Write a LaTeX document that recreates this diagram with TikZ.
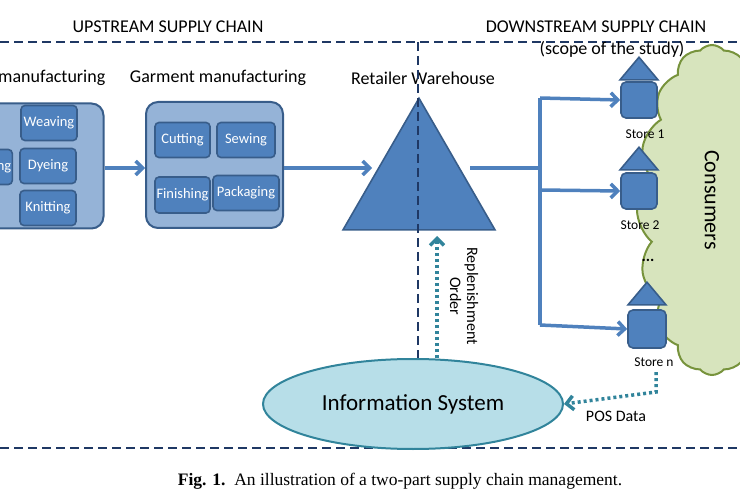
\documentclass[tikz,border=0pt]{standalone}
\usepackage{fontspec}
\setmainfont{Liberation Serif}
\newfontfamily\calfont{Carlito}
\usetikzlibrary{shapes.symbols,shapes.geometric,arrows.meta}
\definecolor{outer}{HTML}{95B3D7}
\definecolor{bord}{HTML}{385D8A}
\definecolor{inner}{HTML}{4F81BD}
\definecolor{navy}{HTML}{1F3864}
\definecolor{teal}{HTML}{31849B}
\definecolor{isfill}{HTML}{B7DEE8}
\definecolor{green1}{HTML}{D7E4BD}
\definecolor{green2}{HTML}{77933C}
\begin{document}
\begin{tikzpicture}[x=1pt,y=-1pt,
  outerbox/.style={draw=bord,fill=outer,line width=2pt,rounded corners=12pt},
  innerbox/.style={draw=bord,fill=inner,line width=1.6pt,rounded corners=4pt,text=white,inner sep=1pt,font=\calfont\fontsize{14.5}{15}\selectfont},
  title/.style={font=\calfont\fontsize{18}{19}\selectfont},
  flow/.style={draw=inner,line width=3.5pt,-{Straight Barb[length=7pt,width=14pt]}},
  flowl/.style={draw=inner,line width=3.5pt},
  sep/.style={draw=navy,line width=1.6pt,dash pattern=on 9pt off 5pt},
  info/.style={draw=teal,line width=3.5pt,dash pattern=on 3pt off 3pt,-{Straight Barb[length=7pt,width=14pt]}},
  store/.style={draw=bord,fill=inner,line width=1.6pt,rounded corners=5pt,minimum width=36pt,minimum height=36pt},
  roof/.style={draw=bord,fill=inner,line width=1.6pt},
  slabel/.style={font=\calfont\fontsize{13.5}{14}\selectfont}]
\useasboundingbox (0,0) rectangle (740,500);
\clip (0,0) rectangle (740,500);
% cloud
\node[cloud,cloud puffs=16,cloud puff arc=100,aspect=0.4,draw=green2,fill=green1,line width=2pt,minimum width=150pt,minimum height=330pt] (cloud) at (712,210) {};
\node[rotate=-90,font=\calfont\fontsize{22}{24}\selectfont] (cons) at (712,200) {Consumers};
% separators
\coordinate (tl) at (0,42); \coordinate (tr) at (740,42);
\coordinate (bl) at (0,448); \coordinate (br) at (740,448);
\coordinate (vt) at (418,42); \coordinate (vb) at (418,360);
\draw[sep] (tl) -- (tr);
\draw[sep] (bl) -- (br);
\node[title] (up) at (168,27) {UPSTREAM SUPPLY CHAIN};
\node[title] (down) at (596,27) {DOWNSTREAM SUPPLY CHAIN};
\node[title] (scope) at (612,49) {(scope of the study)};
% textile
\node[title,anchor=west,inner sep=0] (tt) at (-2,78) {manufacturing};
\node[outerbox,minimum width=125pt,minimum height=125pt] (tex) at (41,166) {};
\node[innerbox,minimum width=46pt,minimum height=35pt] (sp) at (-14,167) {Spinning};
\node[innerbox,minimum width=56pt,minimum height=35pt] (wea) at (49,123) {Weaving};
\node[innerbox,minimum width=56pt,minimum height=35pt] (dye) at (48,166) {Dyeing};
\node[innerbox,minimum width=56pt,minimum height=35pt] (kni) at (48,208) {Knitting};
% garment
\node[title] (gt) at (218,78) {Garment manufacturing};
\node[outerbox,minimum width=137pt,minimum height=126pt] (gar) at (214.5,165) {};
\node[innerbox,minimum width=55pt,minimum height=35pt] (cut) at (182.5,140) {Cutting};
\node[innerbox,minimum width=58pt,minimum height=35pt] (sew) at (246,140) {Sewing};
\node[innerbox,minimum width=55pt,minimum height=36pt] (fin) at (182.5,195) {Finishing};
\node[innerbox,minimum width=66pt,minimum height=35pt] (pac) at (246,193) {Packaging};
% warehouse
\node[title] (wt) at (423,78) {Retailer Warehouse};
\node[isosceles triangle,isosceles triangle apex angle=60,shape border rotate=90,draw=bord,fill=inner,line width=1.6pt,minimum height=130pt,minimum width=152pt,inner sep=0] (wh) at (419,186) {};
\draw[sep] (vt) -- (vb);
% flows
\draw[flow] (tex.east |- 0,168) -- (gar.west |- 0,168);
\draw[flow] (gar.east |- 0,168) -- (372,168);
\coordinate (j) at (540,168);
\coordinate (b1) at (540,98); \coordinate (b2) at (540,190); \coordinate (b3) at (540,325);
\draw[flowl] (470,168) -- (j);
\draw[flowl] (b1) -- (b3);
% stores
\node[store] (s1) at (639,100) {};
\node[roof,isosceles triangle,shape border rotate=90,isosceles triangle apex angle=80,minimum height=22pt,minimum width=38pt,inner sep=0] (r1) at (639,71) {};
\node[store] (s2) at (639,191) {};
\node[roof,isosceles triangle,shape border rotate=90,isosceles triangle apex angle=80,minimum height=22pt,minimum width=38pt,inner sep=0] (r2) at (639,161) {};
\node[store,minimum width=38pt,minimum height=38pt] (s3) at (647,329) {};
\node[roof,isosceles triangle,shape border rotate=90,isosceles triangle apex angle=80,minimum height=22pt,minimum width=38pt,inner sep=0] (r3) at (647,296) {};
\draw[flow] (b1) -- (s1.west);
\draw[flow] (b2) -- (s2.west);
\draw[flow] (b3) -- (s3.west);
\node[slabel] (l1) at (645,134) {Store 1};
\node[slabel] (l2) at (640,225) {Store 2};
\node[slabel] (l3) at (654,362) {Store n};
\node[font=\calfont\bfseries\fontsize{16}{16}\selectfont] (dots) at (648,260) {...};
% information system
\node[ellipse,draw=teal,fill=isfill,line width=2pt,minimum width=300pt,minimum height=90pt] (is) at (413,404) {};
\node[font=\calfont\fontsize{23}{24}\selectfont] (ist) at (413,404) {Information System};
\coordinate (ro) at (437,236);
\draw[info] (437,358) -- (ro);
\node[rotate=-90,align=center,font=\calfont\fontsize{16}{17}\selectfont] (rt) at (464,296) {Replenishment\\Order};
\coordinate (pd) at (656,392);
\draw[info] (656,372) -- (pd) -- (is.east);
\node[font=\calfont\fontsize{16}{17}\selectfont] (pos) at (616,416) {POS Data};
% caption
\node[font=\fontsize{17.5}{18}\selectfont] (cap) at (400,481) {\textbf{Fig. 1.}\ \ An illustration of a two-part supply chain management.};
\end{tikzpicture}
\end{document}
